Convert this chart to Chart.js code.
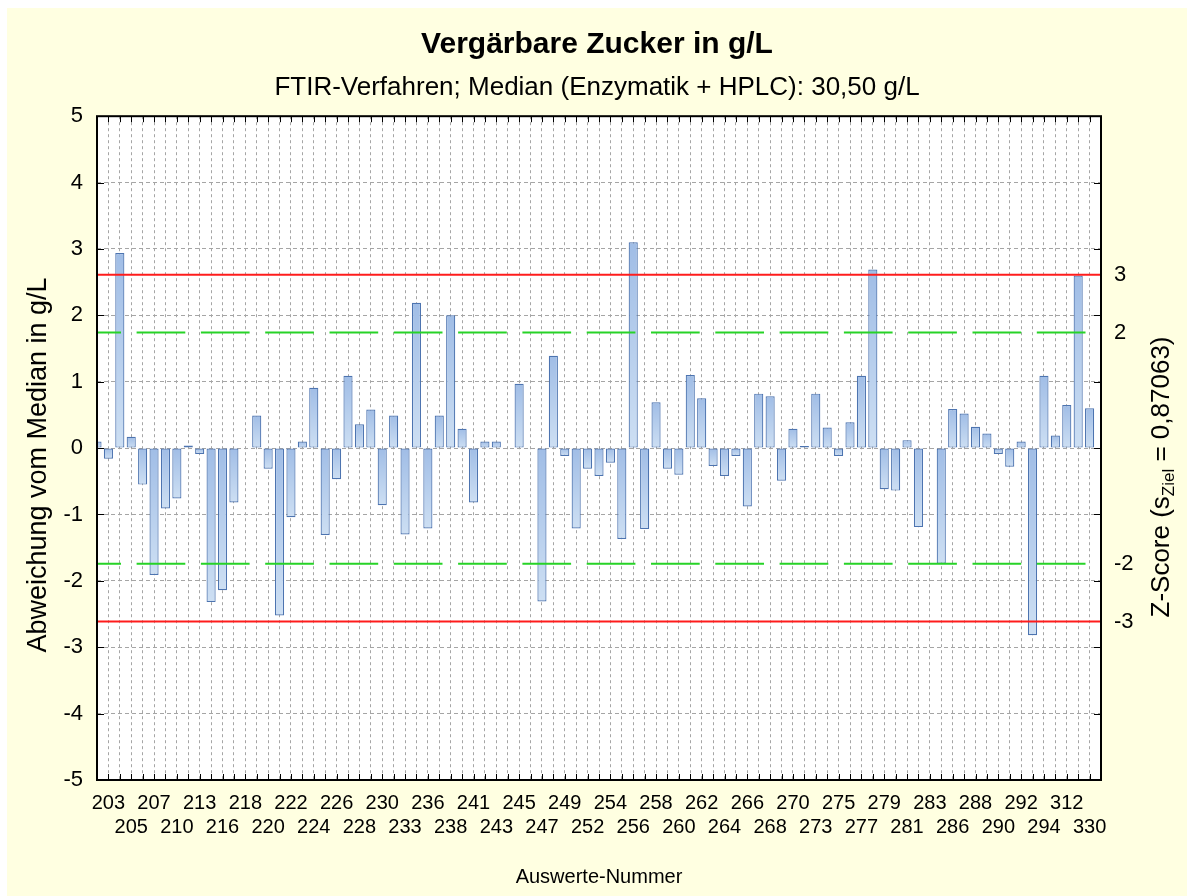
<!DOCTYPE html>
<html lang="de">
<head>
<meta charset="utf-8">
<title>Vergärbare Zucker in g/L</title>
<script src="https://cdn.jsdelivr.net/npm/chart.js@4.4.1/dist/chart.umd.min.js"></script>
<style>
  html, body { margin: 0; padding: 0; background: #fff; }
  #rahmen { position: absolute; left: 7px; top: 8px; width: 1180px; height: 888px; background: #ffffe1; }
  canvas { display: block; }
</style>
</head>
<body>
<div id="rahmen"><canvas id="chart" width="1180" height="888"></canvas></div>
<script>
// --- Daten: Abweichung vom Median (g/L), eine Säule je Position 0..87 ---
const abweichung = [
   0.10, -0.16,  2.94,  0.17, -0.55, -1.91, -0.91, -0.76,  0.04, -0.09,
  -2.32, -2.14, -0.82,  0.00,  0.49, -0.31, -2.52, -1.04,  0.10,  0.91,
  -1.31, -0.47,  1.09,  0.36,  0.58, -0.86,  0.49, -1.30,  2.19, -1.21,
   0.49,  2.00,  0.29, -0.82,  0.10,  0.10,  0.00,  0.97,  0.00, -2.31,
   1.39, -0.12, -1.21, -0.31, -0.42, -0.22, -1.37,  3.10, -1.22,  0.69,
  -0.31, -0.40,  1.10,  0.75, -0.27, -0.42, -0.12, -0.88,  0.82,  0.78,
  -0.49,  0.29,  0.03,  0.82,  0.31, -0.12,  0.39,  1.09,  2.69, -0.62,
  -0.64,  0.12, -1.19,  0.00, -1.74,  0.59,  0.52,  0.32,  0.22, -0.09,
  -0.28,  0.10, -2.82,  1.09,  0.19,  0.65,  2.60,  0.60
];

// Beschriftung jeder zweiten Position (1, 3, 5, ...), abwechselnd obere/untere Zeile
const auswerteNummern = [
  '203', '205', '207', '210', '213', '216', '218', '220', '222', '224',
  '226', '228', '230', '233', '236', '238', '241', '243', '245', '247',
  '249', '252', '254', '256', '258', '260', '262', '264', '266', '268',
  '270', '273', '275', '277', '279', '281', '283', '286', '288', '290',
  '292', '294', '312', '330'
];

const yTicks = [-5, -4, -3, -2, -1, 0, 1, 2, 3, 4, 5];
const zTicks = [-3, -2, 2, 3];
const sZiel = 0.87063;

const schrift = '"Liberation Sans", Arial, sans-serif';
Chart.defaults.font.family = schrift;
Chart.defaults.color = '#000';

// --- Balkenfarbe: Verlauf je Balken (oben dunkler) ---
function balkenFarbe(c) {
  const y = c.chart.scales.y;
  if (c.type !== 'data' || !y) return '#b6cdec';
  const v = c.raw.y;
  const oben = y.getPixelForValue(Math.max(v, 0));
  const unten = y.getPixelForValue(Math.min(v, 0));
  if (!isFinite(oben) || unten - oben < 2) return '#b6cdec';
  const g = c.chart.ctx.createLinearGradient(0, oben, 0, unten);
  g.addColorStop(0, '#a0bde6');
  g.addColorStop(1, '#cddff3');
  return g;
}

// weißer Hintergrund der Zeichenfläche
const flaeche = {
  id: 'flaeche',
  beforeDraw(chart) {
    const { ctx, chartArea: a } = chart;
    ctx.save();
    ctx.fillStyle = '#fff';
    ctx.fillRect(a.left, a.top, a.width, a.height);
    ctx.restore();
  }
};

// --- Grenzlinien (Z = ±2 grün gestrichelt, Z = ±3 rot) ---
const grenzLinien = {
  id: 'grenzLinien',
  afterDatasetsDraw(chart) {
    const { ctx, chartArea: a, scales: { y } } = chart;
    ctx.save();
    ctx.beginPath();
    ctx.rect(a.left, a.top, a.width, a.height);
    ctx.clip();
    ctx.lineWidth = 2;
    ctx.strokeStyle = '#27d327';
    ctx.setLineDash([48.7, 15.6]);
    ctx.lineDashOffset = 24.7;
    [2, -2].forEach(z => {
      const py = y.getPixelForValue(z * sZiel);
      ctx.beginPath();
      ctx.moveTo(a.left, py);
      ctx.lineTo(a.right, py);
      ctx.stroke();
    });
    ctx.setLineDash([]);
    ctx.strokeStyle = '#ff1c1c';
    [3, -3].forEach(z => {
      const py = y.getPixelForValue(z * sZiel);
      ctx.beginPath();
      ctx.moveTo(a.left, py);
      ctx.lineTo(a.right, py);
      ctx.stroke();
    });
    ctx.restore();
  }
};

// gedrehter Text aus Teilen (für Index "Ziel")
function senkrecht(ctx, teile, cx, cy) {
  let breite = 0;
  teile.forEach(p => { ctx.font = p.size + 'px ' + schrift; p.w = ctx.measureText(p.t).width; breite += p.w; });
  ctx.save();
  ctx.translate(cx, cy);
  ctx.rotate(-Math.PI / 2);
  ctx.fillStyle = '#000';
  ctx.textBaseline = 'middle';
  let px = -breite / 2;
  teile.forEach(p => {
    ctx.font = p.size + 'px ' + schrift;
    ctx.fillText(p.t, px, p.dy || 0);
    px += p.w;
  });
  ctx.restore();
}

// --- Rahmen, Innen-Teilstriche und Achsentitel links/rechts ---
const rahmen = {
  id: 'rahmen',
  afterDraw(chart) {
    const { ctx, chartArea: a, scales: { x, y } } = chart;
    ctx.save();
    ctx.strokeStyle = '#000';
    ctx.lineWidth = 1;
    ctx.beginPath();
    x.ticks.forEach(t => {
      const px = Math.round(x.getPixelForValue(t.value)) + 0.5;
      ctx.moveTo(px, a.top); ctx.lineTo(px, a.top + 6);
      ctx.moveTo(px, a.bottom); ctx.lineTo(px, a.bottom - 6);
    });
    y.ticks.forEach(t => {
      const py = Math.round(y.getPixelForValue(t.value)) + 0.5;
      ctx.moveTo(a.left, py); ctx.lineTo(a.left + 7, py);
      ctx.moveTo(a.right, py); ctx.lineTo(a.right - 7, py);
    });
    ctx.stroke();
    ctx.lineWidth = 2;
    ctx.strokeRect(a.left, a.top, a.width, a.height);
    ctx.restore();

    senkrecht(ctx, [{ t: 'Abweichung vom Median in g/L', size: 27 }], 32, 457);
    senkrecht(ctx, [
      { t: 'Z-Score (s', size: 26 },
      { t: 'Ziel', size: 17, dy: 7 },
      { t: ' = 0,87063)', size: 26 }
    ], 1155, 469);
  }
};

new Chart(document.getElementById('chart'), {
  type: 'bar',
  data: {
    datasets: [{
      data: abweichung.map((v, i) => ({ x: i, y: v })),
      backgroundColor: balkenFarbe,
      borderColor: '#4d74b0',
      borderWidth: 1.2,
      borderSkipped: false,
      categoryPercentage: 1,
      barPercentage: 0.8,
      clip: 0
    }]
  },
  options: {
    responsive: false,
    animation: false,
    layout: { padding: 0 },
    plugins: {
      legend: { display: false },
      tooltip: { enabled: false },
      title: {
        display: true,
        text: 'Vergärbare Zucker in g/L',
        font: { size: 30, weight: 'bold' },
        padding: { top: 19, bottom: 9 }
      },
      subtitle: {
        display: true,
        text: 'FTIR-Verfahren; Median (Enzymatik + HPLC): 30,50 g/L',
        color: '#000',
        font: { size: 26 },
        padding: { top: 0, bottom: 13 }
      }
    },
    scales: {
      x: {
        type: 'linear',
        min: 0,
        max: 88,
        offset: false,
        afterFit: s => { s.height = 116; },
        grid: { offset: false, drawTicks: false, color: '#a5a5a5', lineWidth: 1 },
        border: { display: false, dash: [3, 3] },
        ticks: {
          stepSize: 1,
          maxTicksLimit: 200,
          autoSkip: false,
          maxRotation: 0,
          minRotation: 0,
          padding: 11,
          font: { size: 20 },
          callback: v => {
            if (v % 2 !== 1) return '';
            const k = (v - 1) / 2;
            const lab = auswerteNummern[k];
            return k % 2 === 0 ? lab : ['', lab];
          }
        },
        title: {
          display: true,
          text: 'Auswerte-Nummer',
          font: { size: 20 },
          padding: { top: 0, bottom: 7 }
        }
      },
      y: {
        position: 'left',
        min: -5,
        max: 5,
        afterFit: s => { s.width = 90; },
        afterBuildTicks: s => { s.ticks = yTicks.map(v => ({ value: v })); },
        grid: { drawTicks: false, color: '#a5a5a5', lineWidth: 1 },
        border: { display: false, dash: [4, 3] },
        ticks: { padding: 14, font: { size: 22 } }
      },
      z: {
        position: 'right',
        min: -5 / sZiel,
        max: 5 / sZiel,
        afterFit: s => { s.width = 86; },
        afterBuildTicks: s => { s.ticks = zTicks.map(v => ({ value: v })); },
        grid: { display: false, drawTicks: false },
        border: { display: false },
        ticks: { padding: 13, font: { size: 22 } }
      }
    }
  },
  plugins: [flaeche, grenzLinien, rahmen]
});
</script>
</body>
</html>
